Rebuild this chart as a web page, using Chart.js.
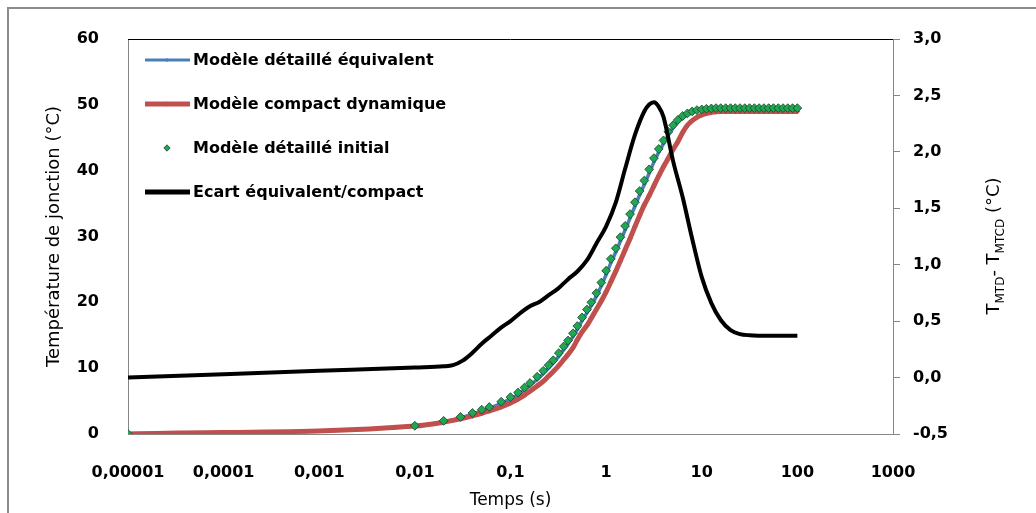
<!DOCTYPE html>
<html lang="fr">
<head>
<meta charset="UTF-8" />
<title>Température de jonction</title>
<script src="https://cdn.jsdelivr.net/npm/chart.js"></script>
<style>
  html, body { margin: 0; background: #fff; overflow: hidden; }
  #wrap { position: relative; width: 1036px; height: 513px; }
</style>
</head>
<body>
<div id="wrap"><canvas id="chart"></canvas></div>
<script>
  // temps (s) des trois courbes de température
  const times = [0.00001, 0.01, 0.02, 0.03, 0.04, 0.05, 0.06, 0.08, 0.1, 0.12, 0.14, 0.16, 0.19, 0.22, 0.25, 0.28,
    0.32, 0.36, 0.4, 0.45, 0.5, 0.56, 0.63, 0.7, 0.79, 0.89, 1, 1.12, 1.26, 1.41, 1.58, 1.78, 2.0, 2.24, 2.51, 2.82,
    3.16, 3.55, 3.98, 4.47, 5.01, 5.62, 6.31, 7.08, 7.94, 8.91, 10, 11.2, 12.6, 14.1, 15.8, 17.8, 20, 22.4, 25.1,
    28.2, 31.6, 35.5, 39.8, 44.7, 50.1, 56.2, 63.1, 70.8, 79.4, 89.1, 100];

  const detEquiv = [0, 1.2, 1.9, 2.45, 3.0, 3.5, 3.9, 4.65, 5.35, 6.0, 6.7, 7.4, 8.3, 9.2, 10.0, 10.8,
    11.8, 12.8, 13.7, 14.8, 15.9, 17.2, 18.4, 19.5, 20.9, 22.5, 24.2, 26.0, 27.6, 29.3, 31.0, 32.8, 34.6, 36.3, 37.9, 39.6,
    41.3, 42.8, 44.1, 45.4, 46.5, 47.4, 48.0, 48.5, 48.8, 49.05, 49.2, 49.3, 49.4, 49.45, 49.45, 49.45, 49.45, 49.45, 49.45,
    49.45, 49.45, 49.45, 49.45, 49.45, 49.45, 49.45, 49.45, 49.45, 49.45, 49.45, 49.45];

  const compactDyn = [0, 1.2, 1.8, 2.3, 2.75, 3.15, 3.5, 4.1, 4.7, 5.3, 5.9, 6.5, 7.3, 8.0, 8.8, 9.5,
    10.4, 11.3, 12.1, 13.1, 14.3, 15.5, 16.5, 17.6, 18.9, 20.2, 21.6, 23.1, 24.7, 26.3, 28.0, 29.7, 31.5, 33.2, 34.8, 36.2,
    37.7, 39.2, 40.6, 41.9, 43.2, 44.4, 45.8, 46.9, 47.6, 48.1, 48.45, 48.7, 48.85, 48.95, 49.0, 49.0, 49.0, 49.0, 49.0,
    49.0, 49.0, 49.0, 49.0, 49.0, 49.0, 49.0, 49.0, 49.0, 49.0, 49.0, 49.0];

  const detInitial = [0, 1.25, 2.0, 2.6, 3.2, 3.7, 4.1, 4.9, 5.6, 6.3, 7.05, 7.75, 8.7, 9.6, 10.45, 11.2,
    12.3, 13.3, 14.2, 15.3, 16.4, 17.7, 18.9, 20.0, 21.4, 23.0, 24.8, 26.6, 28.2, 29.9, 31.6, 33.4, 35.2, 36.9, 38.5, 40.2,
    41.9, 43.3, 44.6, 45.9, 46.9, 47.7, 48.3, 48.7, 49.0, 49.2, 49.3, 49.4, 49.45, 49.5, 49.5, 49.5, 49.5, 49.5, 49.5,
    49.5, 49.5, 49.5, 49.5, 49.5, 49.5, 49.5, 49.5, 49.5, 49.5, 49.5, 49.5];

  // écart équivalent/compact (axe de droite)
  const ecartTimes = [0.00001, 0.0001, 0.001, 0.01, 0.02, 0.025, 0.0316, 0.04, 0.05, 0.063, 0.079, 0.1, 0.126, 0.158,
    0.2, 0.251, 0.316, 0.398, 0.5, 0.631, 0.794, 1, 1.26, 1.58, 2.0, 2.51, 2.82, 3.16, 3.55, 3.98, 5.01, 6.31, 7.94,
    10, 12.6, 15.8, 20, 25.1, 31.6, 50, 100];
  const ecart = [0.0, 0.03, 0.06, 0.09, 0.10, 0.11, 0.15, 0.22, 0.30, 0.37, 0.44, 0.50, 0.57, 0.63,
    0.67, 0.73, 0.79, 0.87, 0.94, 1.04, 1.19, 1.34, 1.55, 1.85, 2.15, 2.36, 2.42, 2.44, 2.40, 2.31, 1.92, 1.60, 1.23,
    0.89, 0.66, 0.51, 0.42, 0.385, 0.375, 0.37, 0.37];

  const seriesNames = ['Modèle détaillé équivalent', 'Modèle compact dynamique', 'Modèle détaillé initial', 'Ecart équivalent/compact'];
  const xTicks = [0.00001, 0.0001, 0.001, 0.01, 0.1, 1, 10, 100, 1000];
  const xTickLabels = ['0,00001', '0,0001', '0,001', '0,01', '0,1', '1', '10', '100', '1000'];

  const FONT = '"DejaVu Sans", Verdana, sans-serif';
  const AXIS = '#868686';
  const pts = (xs, ys) => xs.map((x, i) => ({ x: x, y: ys[i] }));

  const frame = {
    id: 'frame',
    beforeDraw(chart) {
      const ctx = chart.ctx;
      ctx.save();
      ctx.strokeStyle = '#8c8c8c';
      ctx.lineWidth = 2;
      ctx.beginPath();
      ctx.moveTo(8, 600); ctx.lineTo(8, 8); ctx.lineTo(1100, 8);
      ctx.stroke();
      ctx.restore();
    },
    afterDraw(chart) {
      const ctx = chart.ctx;
      const a = chart.chartArea;
      ctx.save();
      // bord haut de la zone de tracé
      ctx.strokeStyle = '#000';
      ctx.lineWidth = 1;
      ctx.beginPath();
      ctx.moveTo(a.left, a.top + 0.5); ctx.lineTo(a.right, a.top + 0.5);
      ctx.stroke();

      // légende
      const ds = chart.data.datasets;
      ctx.font = 'bold 16px ' + FONT;
      ctx.textBaseline = 'middle';
      ds.forEach((d, i) => {
        const y = 60 + i * 44;
        if (d.showLine !== false) {
          ctx.strokeStyle = d.borderColor;
          ctx.lineWidth = d.legendWidth;
          ctx.beginPath();
          ctx.moveTo(145, y); ctx.lineTo(190, y);
          ctx.stroke();
        }
        if (d.pointRadius > 0) {
          ctx.fillStyle = d.pointBackgroundColor;
          ctx.strokeStyle = d.pointBorderColor;
          ctx.lineWidth = d.pointBorderWidth;
          Chart.helpers.drawPoint(ctx, { pointStyle: 'rectRot', rotation: 0, radius: d.legendRadius, borderWidth: d.pointBorderWidth }, 167, y);
        }
        ctx.fillStyle = '#000';
        ctx.fillText(d.label, 193, y + 1);
      });

      // titre de l'axe de droite avec indices
      const parts = [['T', 18, 0], ['MTD', 12, 5], ['- T', 18, 0], ['MTCD', 12, 5], [' (°C)', 18, 0]];
      let total = 0;
      parts.forEach(p => { ctx.font = p[1] + 'px ' + FONT; total += ctx.measureText(p[0]).width; });
      ctx.translate(993, 246);
      ctx.rotate(-Math.PI / 2);
      ctx.textBaseline = 'alphabetic';
      ctx.fillStyle = '#000';
      let x = -total / 2;
      parts.forEach(p => {
        ctx.font = p[1] + 'px ' + FONT;
        ctx.fillText(p[0], x, 6 + p[2]);
        x += ctx.measureText(p[0]).width;
      });
      ctx.restore();
    }
  };

  new Chart(document.getElementById('chart'), {
    type: 'line',
    data: {
      datasets: [
        {
          label: seriesNames[0], data: pts(times, detEquiv), yAxisID: 'y', order: 4,
          borderColor: '#4a7ebb', borderWidth: 3.5, legendWidth: 3, legendRadius: 2,
          pointStyle: 'rectRot', pointRadius: 2.2, pointBackgroundColor: '#4a7ebb', pointBorderColor: '#4a7ebb', pointBorderWidth: 0,
          cubicInterpolationMode: 'monotone'
        },
        {
          label: seriesNames[1], data: pts(times, compactDyn), yAxisID: 'y', order: 3,
          borderColor: '#c0504d', borderWidth: 5, legendWidth: 5, legendRadius: 2.5,
          pointStyle: 'rectRot', pointRadius: 2.8, pointBackgroundColor: '#c0504d', pointBorderColor: '#c0504d', pointBorderWidth: 0,
          cubicInterpolationMode: 'monotone'
        },
        {
          label: seriesNames[2], data: pts(times, detInitial), yAxisID: 'y', order: 2,
          showLine: false, borderColor: '#1e9e4d', legendWidth: 0, legendRadius: 3.2,
          pointStyle: 'rectRot', pointRadius: 4.4, pointBackgroundColor: '#1fa852', pointBorderColor: '#1b3f27', pointBorderWidth: 0.8
        },
        {
          label: seriesNames[3], data: pts(ecartTimes, ecart), yAxisID: 'y2', order: 1,
          borderColor: '#000', borderWidth: 4, legendWidth: 5, legendRadius: 0,
          pointRadius: 0, cubicInterpolationMode: 'monotone'
        }
      ]
    },
    options: {
      responsive: true,
      maintainAspectRatio: false,
      animation: false,
      layout: { padding: { top: 39, left: 0, right: 0, bottom: 0 } },
      plugins: { legend: { display: false }, tooltip: { enabled: false } },
      scales: {
        x: {
          type: 'logarithmic', position: 'bottom', min: 0.00001, max: 1000,
          afterBuildTicks: s => { s.ticks = xTicks.map(v => ({ value: v })); },
          afterFit: s => { s.height = 79; },
          grid: { display: false },
          border: { color: AXIS, width: 1 },
          ticks: {
            autoSkip: false, maxRotation: 0, padding: 21, color: '#000',
            font: { family: FONT, size: 16, weight: 'bold' },
            callback: v => {
              const i = xTicks.findIndex(t => Math.abs(Math.log10(t) - Math.log10(v)) < 1e-6);
              return i < 0 ? '' : xTickLabels[i];
            }
          },
          title: { display: true, text: 'Temps (s)', color: '#000', font: { family: FONT, size: 17 }, padding: { top: 0, bottom: 2 } }
        },
        y: {
          position: 'left', min: 0, max: 60,
          afterFit: s => { s.width = 128; },
          grid: { display: false },
          border: { color: AXIS, width: 1 },
          ticks: { stepSize: 10, padding: 21, color: '#000', font: { family: FONT, size: 16, weight: 'bold' } },
          title: { display: true, text: 'Température de jonction (°C)', color: '#000', font: { family: FONT, size: 18 }, padding: { top: 44, bottom: 0 } }
        },
        y2: {
          position: 'right', min: -0.5, max: 3,
          afterFit: s => { s.width = 143; },
          grid: { display: true, drawOnChartArea: false, drawTicks: true, tickLength: 7, color: AXIS },
          border: { color: AXIS, width: 1 },
          ticks: {
            stepSize: 0.5, padding: 13, color: '#000', font: { family: FONT, size: 16, weight: 'bold' },
            callback: v => v.toFixed(1).replace('.', ',')
          }
        }
      }
    },
    plugins: [frame]
  });
</script>
</body>
</html>
